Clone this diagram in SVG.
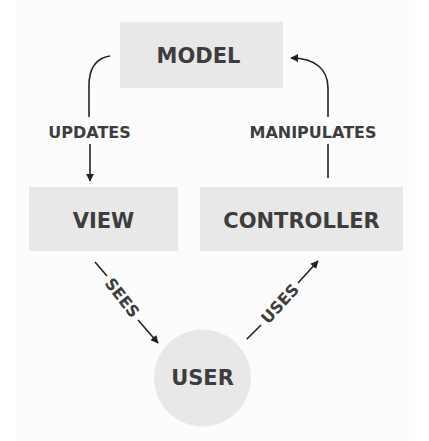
<svg xmlns="http://www.w3.org/2000/svg" width="429" height="441" viewBox="0 0 429 441">
<style>
.box{fill:#e8e8e8}
.t{font-family:"DejaVu Sans",Verdana,sans-serif;font-weight:bold;fill:#3d3d3d;text-anchor:middle}
.big{font-size:21px}
.lbl{font-size:16px}
.c{fill:none;stroke:#222;stroke-width:1.6}
</style>
<defs>
<marker id="ah" viewBox="0 0 10 10" refX="9" refY="5" markerWidth="8" markerHeight="8" markerUnits="userSpaceOnUse" orient="auto">
<path d="M0,0 L10,5 L0,10 z" fill="#222"/>
</marker>
</defs>
<rect x="0" y="0" width="429" height="441" fill="#ffffff"/>
<rect x="16" y="0" width="399" height="441" fill="#fcfcfc"/>
<g id="connectors">
<path class="c" d="M110,56 C96,58 89,68 89,86 L89,117"/>
<path class="c" d="M90,144 L90,181" marker-end="url(#ah)"/>
<path class="c" d="M328,178 L328,144"/>
<path class="c" d="M328,117 L328,88 C328,70 316,58 291,58" marker-end="url(#ah)"/>
<path class="c" d="M95,262 L107,276"/>
<path class="c" d="M138,320 L158,343" marker-end="url(#ah)"/>
<text class="t lbl" transform="translate(122.5,297.5) rotate(52)" y="6">SEES</text>
<path class="c" d="M246.7,339.3 L261,325"/>
<path class="c" d="M298,283 L318,261" marker-end="url(#ah)"/>
<text class="t lbl" transform="translate(279.7,303.5) rotate(-47.8)" y="6">USES</text>
<text class="t lbl" x="89.5" y="137.7">UPDATES</text>
<text class="t lbl" x="313" y="137.7">MANIPULATES</text>
</g>
<g id="model">
<rect class="box" x="120" y="22" width="163" height="66"/>
<text class="t big" x="198.5" y="63">MODEL</text>
</g>
<g id="view">
<rect class="box" x="29" y="187" width="149" height="64"/>
<text class="t big" x="103.5" y="227.5">VIEW</text>
</g>
<g id="controller">
<rect class="box" x="200" y="187" width="203" height="64"/>
<text class="t big" x="301.5" y="227.5">CONTROLLER</text>
</g>
<g id="user">
<circle class="box" cx="202.5" cy="378" r="48.5"/>
<text class="t big" x="202.5" y="385">USER</text>
</g>
</svg>
